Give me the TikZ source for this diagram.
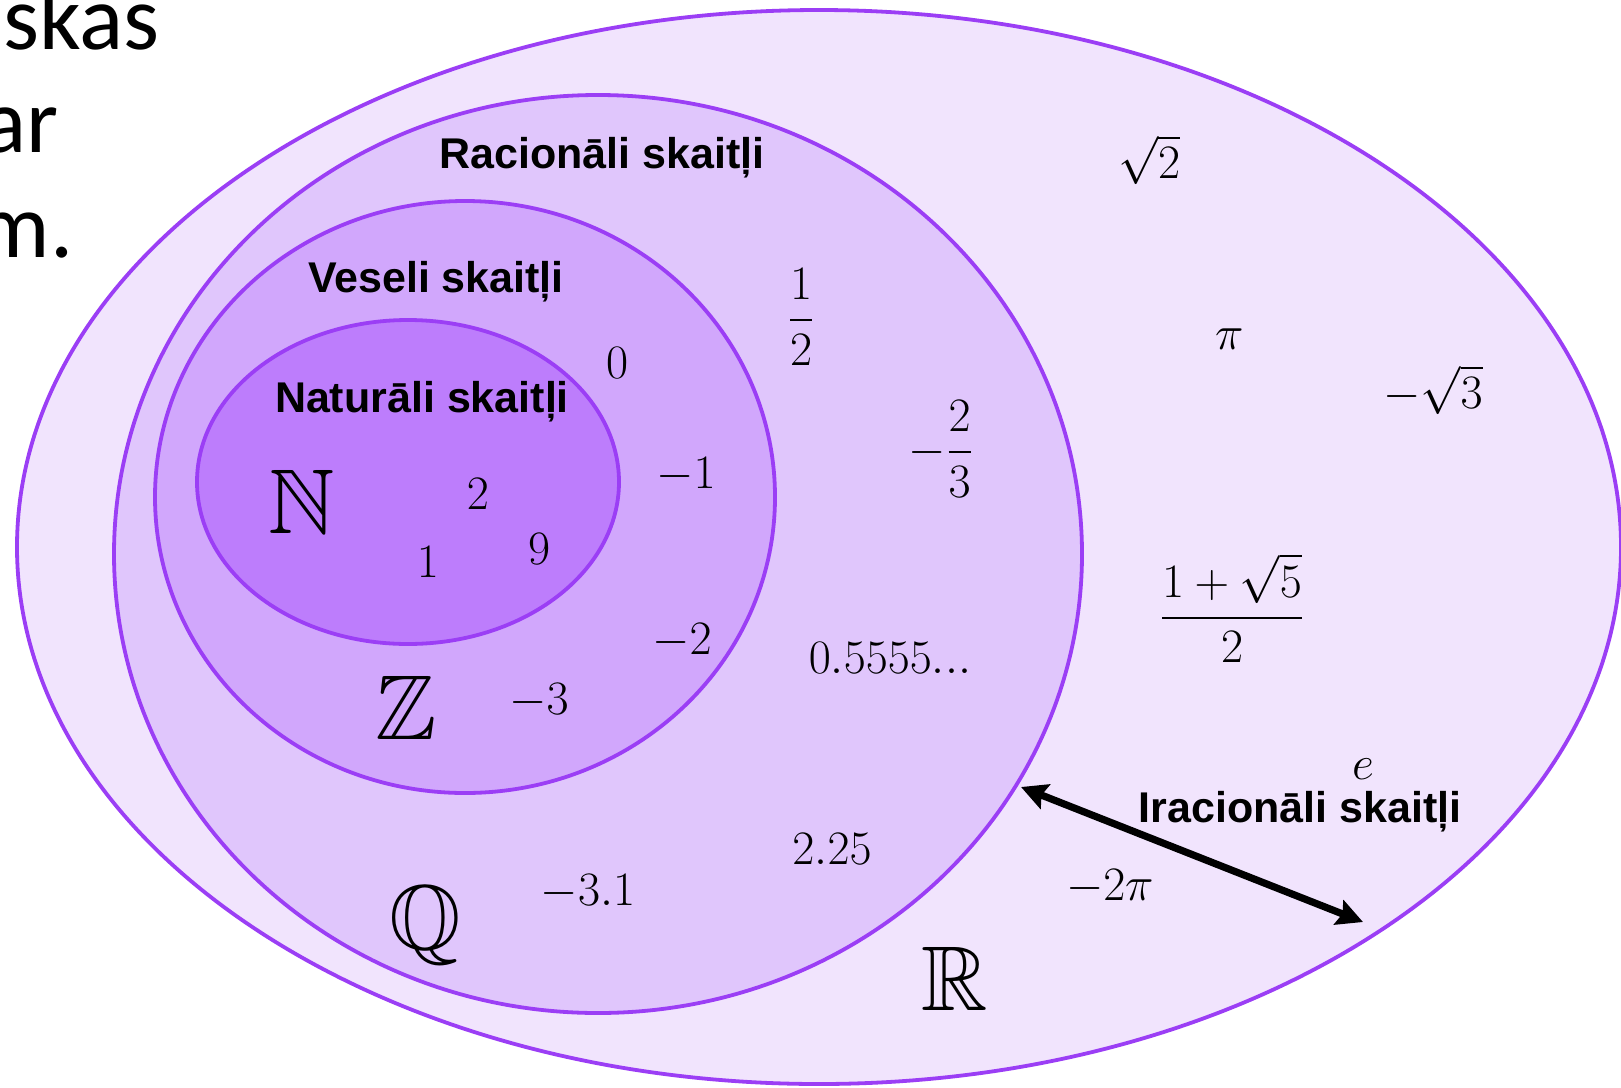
\RequirePackage{fix-cm}
\documentclass[tikz,border=0pt]{standalone}
\usepackage{amsmath,amssymb}
\usepackage{fontspec}
\usetikzlibrary{arrows.meta}
\newfontfamily\slidefont{Carlito}
\newfontfamily\setfont{Liberation Sans}
\definecolor{realfill}{RGB}{241,228,253}
\definecolor{ratfill}{RGB}{224,198,252}
\definecolor{intfill}{RGB}{209,167,252}
\definecolor{natfill}{RGB}{189,125,252}
\definecolor{setborder}{RGB}{155,62,245}

\begin{document}
\begin{tikzpicture}[x=0.5pt, y=-0.5pt,
    setline/.style={draw=setborder, line width=1.9pt},
    setname/.style={font=\setfont\bfseries\fontsize{21.5}{24}\selectfont},
    num/.style={font=\fontsize{24}{28}\selectfont},
    bbl/.style={font=\fontsize{46}{50}\selectfont},
    slide/.style={font=\slidefont\fontsize{46}{54}\selectfont, anchor=base east, inner sep=0pt}]
    \useasboundingbox (0,0) rectangle (1621,1087);

    % slide text cut off on the left
    \node[slide] (line1) at (160,49) {skas};
    \node[slide] (line2) at (59,152) {ar};
    \node[slide] (line3) at (74,257) {m.};

    % the nested sets
    \filldraw[setline, fill=realfill] (819,547) ellipse (802 and 537);
    \filldraw[setline, fill=ratfill] (598,554) ellipse (484 and 459);
    \filldraw[setline, fill=intfill] (465,497) ellipse (310 and 296);
    \filldraw[setline, fill=natfill] (408,482) ellipse (211 and 162);

    \node[setname] (ratname) at (602,158) {Racionāli skaitļi};
    \node[setname] (intname) at (436,282) {Veseli skaitļi};
    \node[setname] (natname) at (422,402) {Naturāli skaitļi};
    \node[setname] (irrname) at (1300,812) {Iracionāli skaitļi};

    \node[bbl] (N) at (302,502) {$\mathbb{N}$};
    \node[bbl] (Z) at (406,708) {$\mathbb{Z}$};
    \node[bbl] (Q) at (425,925) {$\mathbb{Q}$};
    \node[bbl] (R) at (955,979) {$\mathbb{R}$};

    % naturals
    \node[num] (two) at (478,494) {$2$};
    \node[num] (one) at (428,562) {$1$};
    \node[num] (nine) at (539,549) {$9$};
    % integers
    \node[num] (zero) at (617,363) {$0$};
    \node[num] (mone) at (686,475) {$-1$};
    \node[num] (mtwo) at (682,641) {$-2$};
    \node[num] (mthree) at (539,701) {$-3$};
    % rationals
    \node[num] (half) at (801,317) {$\dfrac{1}{2}$};
    \node[num] (mtwothirds) at (941,449) {$-\dfrac{2}{3}$};
    \node[num] (repeat) at (890,658) {$0.5555...$};
    \node[num] (twoquarter) at (832,849) {$2.25$};
    \node[num] (mthreeone) at (588,892) {$-3.1$};
    % irrationals
    \node[num] (sqrttwo) at (1149,160) {$\sqrt{2}$};
    \node[num] (pi) at (1230,339) {$\pi$};
    \node[num] (msqrtthree) at (1433,390) {$-\sqrt{3}$};
    \node[num] (golden) at (1232,608) {$\dfrac{1+\sqrt{5}}{2}$};
    \node[num] (euler) at (1363,769) {$e$};
    \node[num] (mtwopi) at (1110,887) {$-2\pi$};

    \coordinate (irrin) at (1021,787);
    \coordinate (irrout) at (1363,922);
    \draw[line width=3.6pt, {Stealth[length=13pt, width=13pt, inset=2pt]}-{Stealth[length=13pt, width=13pt, inset=2pt]}] (irrin) -- (irrout);
\end{tikzpicture}
\end{document}
